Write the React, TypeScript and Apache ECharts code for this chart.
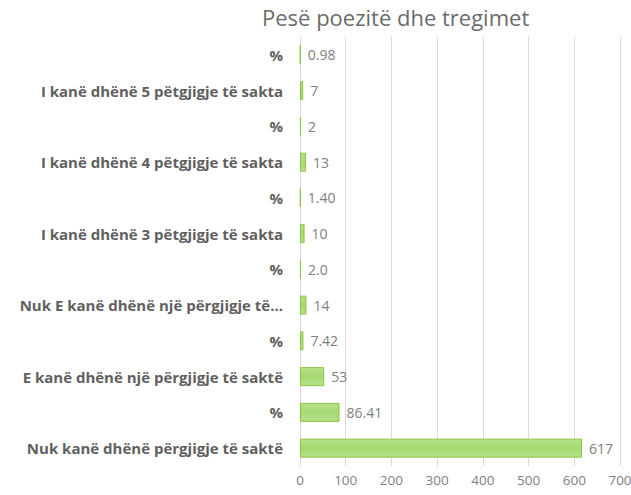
import React, { useEffect, useRef } from "react";
import * as echarts from "echarts";

const categories = [
  "Nuk kanë dhënë përgjigje të saktë",
  "%",
  "E kanë dhënë një përgjigje të saktë",
  "%",
  "Nuk E kanë dhënë një përgjigje të...",
  "%",
  "I kanë dhënë 3 pëtgjigje të sakta",
  "%",
  "I kanë dhënë 4 pëtgjigje të sakta",
  "%",
  "I kanë dhënë 5 pëtgjigje të sakta",
  "%",
];
const values = [617, 86.41, 53, 7.42, 14, 2.0, 10, 1.4, 13, 2, 7, 0.98];
const valueLabels = ["617", "86.41", "53", "7.42", "14", "2.0", "10", "1.40", "13", "2", "7", "0.98"];
const xTicks = [0, 100, 200, 300, 400, 500, 600, 700];

export default function App() {
  const ref = useRef<HTMLDivElement>(null);
  useEffect(() => {
    if (!ref.current) return;
    const chart = echarts.init(ref.current, null, { renderer: "svg" });
    chart.setOption({
      animation: false,
      backgroundColor: "#ffffff",
      title: {
        text: "Pesë poezitë dhe tregimet",
        left: 257,
        top: 1,
        textStyle: { fontFamily: "Open Sans", fontSize: 22, fontWeight: "normal", color: "#6b6b6b" },
      },
      grid: { left: 300, right: 11, top: 37, bottom: 29, containLabel: false, outerBoundsMode: "none" },
      xAxis: {
        type: "value",
        min: 0,
        max: 700,
        interval: 100,
        axisLine: { show: false },
        axisTick: { show: false },
        splitLine: { show: true, lineStyle: { color: "#d9d9d9", width: 1 } },
        axisLabel: {
          color: "#808080",
          fontFamily: "Open Sans",
          fontSize: 13.5,
          margin: 7,
          formatter: (v: number) => (xTicks.includes(v) ? String(v) : ""),
        },
      },
      yAxis: {
        type: "category",
        data: categories,
        axisLine: { show: true, lineStyle: { color: "#d9d9d9" } },
        axisTick: { show: false },
        axisLabel: {
          color: "#5f5f5f",
          fontFamily: "Open Sans",
          fontWeight: "bold",
          fontSize: 15,
          margin: 17,
        },
      },
      series: [
        {
          type: "bar",
          data: values,
          barWidth: 19,
          itemStyle: {
            color: new echarts.graphic.LinearGradient(0, 0, 0, 1, [
              { offset: 0, color: "#b7e08c" },
              { offset: 0.5, color: "#a6d872" },
              { offset: 1, color: "#b7e08c" },
            ]),
            borderColor: "#8cc43f",
            borderWidth: 1,
          },
          label: {
            show: true,
            position: "right",
            distance: 7,
            color: "#808080",
            fontFamily: "Open Sans",
            fontSize: 14,
            formatter: (p: any) => valueLabels[p.dataIndex],
          },
        },
      ],
    });
    return () => chart.dispose();
  }, []);
  return (
    <div
      ref={ref}
      style={{ position: "fixed", left: 0, top: 0, width: 631, height: 495 }}
    />
  );
}
